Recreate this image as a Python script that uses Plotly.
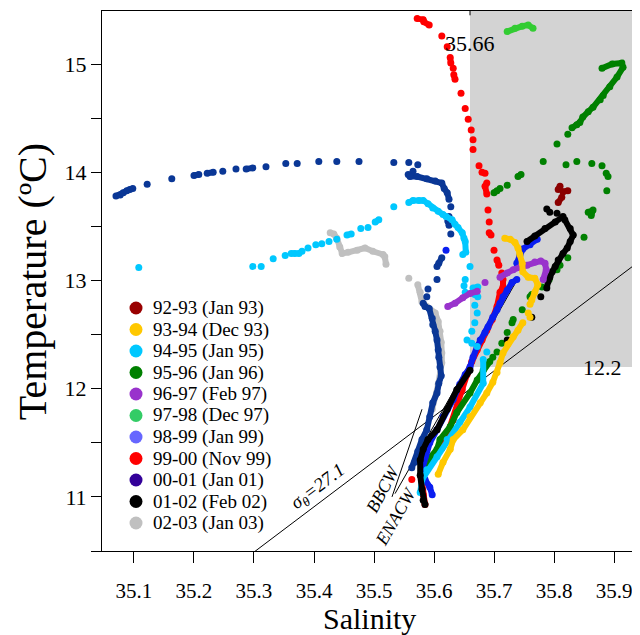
import plotly.graph_objects as go

N = None
# ---------------- data (salinity S, temperature T); None separates runs / isolated casts
s_9293 = [35.810, 35.807, N, 35.815, 35.823, N, 35.813, 35.807]
t_9293 = [13.87, 13.84, N, 13.82, 13.83, N, 13.77, 13.72]

s_9394 = [35.718, 35.727, 35.735, 35.740, 35.743, 35.747, 35.748, 35.757, 35.768, 35.773, 35.768, 35.763, 35.760, N,
          35.757, N, 35.760, N,
          35.748, 35.740, 35.732, 35.723, 35.715, 35.710, 35.705, 35.698, 35.688, 35.677, 35.660, 35.648, 35.632, 35.627, 35.615, 35.607]
t_9394 = [13.39, 13.38, 13.35, 13.30, 13.24, 13.16, 13.08, 13.03, 13.02, 12.96, 12.89, 12.82, 12.78, N,
          12.70, N, 12.66, N,
          12.61, 12.54, 12.48, 12.41, 12.33, 12.24, 12.15, 12.06, 11.96, 11.87, 11.74, 11.62, 11.53, 11.44, 11.32, 11.21]

s_9495 = [35.108, N, 35.298, N, 35.312, N, 35.332, N, 35.352, N, 35.362, 35.368, 35.375, N, 35.380, N, 35.390, N, 35.403, N,
          35.413, N, 35.425, N, 35.438, N, 35.455, 35.462, N, 35.478, N, 35.490, N, 35.502, 35.508, N, 35.533, N,
          35.558, 35.565, 35.575, 35.582, 35.590, 35.598, 35.607, 35.615, 35.620, 35.630, 35.635, 35.640, 35.647, 35.650, 35.652, 35.653, N,
          35.648, N, 35.660, N, 35.652, N, 35.650, N, 35.652, N, 35.665, 35.673, N, 35.668, 35.673, N, 35.668, N, 35.672, N,
          35.668, N, 35.663, N, 35.655, N, 35.663, N, 35.672, N, 35.688, N,
          35.682, 35.682, 35.660, 35.643, 35.622, 35.605, 35.588, 35.580, 35.577]
t_9495 = [13.12, N, 13.13, N, 13.13, N, 13.20, N, 13.23, N, 13.25, 13.25, 13.25, N, 13.27, N, 13.30, N, 13.33, N,
          13.34, N, 13.36, N, 13.38, N, 13.42, 13.43, N, 13.48, N, 13.49, N, 13.54, 13.56, N, 13.68, N,
          13.72, 13.74, 13.74, 13.74, 13.71, 13.67, 13.64, 13.61, 13.59, 13.56, 13.52, 13.49, 13.44, 13.39, 13.36, 13.26, N,
          13.24, N, 13.13, N, 13.01, N, 12.95, N, 12.89, N, 12.93, 12.94, N, 12.87, 12.85, N, 12.77, N, 12.70, N,
          12.61, N, 12.53, N, 12.45, N, 12.42, N, 12.39, N, 12.34, N,
          12.27, 12.05, 11.83, 11.69, 11.53, 11.37, 11.25, 11.16, 11.04]

s_9596 = [35.880, 35.897, 35.913, 35.915, 35.905, 35.893, 35.882, 35.877, 35.865, 35.857, 35.848, 35.843, 35.838, 35.830, N,
          35.823, N, 35.805, N, 35.782, N, 35.745, 35.740, N, 35.722, N, 35.710, N, 35.705, 35.700, N,
          35.820, N, 35.838, N, 35.863, N, 35.880, N, 35.887, N, 35.890, N, 35.888, N,
          35.857, 35.865, 35.862, N, 35.850, N, 35.823, N, 35.810, N, 35.805, N, 35.792, N, 35.780, N, 35.763, 35.760, N,
          35.747, N, 35.732, 35.730, N, 35.722, N, 35.713, N, 35.705, N, 35.698, N,
          35.693, 35.682, 35.672, 35.660, 35.638, 35.627, 35.610, 35.605, 35.590, 35.585]
t_9596 = [14.96, 15.00, 15.01, 14.97, 14.88, 14.79, 14.71, 14.67, 14.60, 14.56, 14.51, 14.46, 14.44, 14.41, N,
          14.35, N, 14.26, N, 14.10, N, 13.98, 13.96, N, 13.88, N, 13.85, N, 13.83, 13.81, N,
          14.07, N, 14.10, N, 14.08, N, 14.06, N, 13.99, N, 13.96, N, 13.83, N,
          13.63, 13.65, 13.60, N, 13.40, N, 13.21, N, 13.14, N, 13.10, N, 13.01, N, 12.94, N, 12.87, 12.85, N,
          12.73, N, 12.64, 12.61, N, 12.52, N, 12.42, N, 12.34, N, 12.29, N,
          12.25, 12.17, 12.08, 11.96, 11.78, 11.65, 11.53, 11.44, 11.34, 11.25]

s_9697 = [35.623, 35.635, 35.648, 35.660, 35.672, N, 35.685, N,
          35.710, 35.722, 35.732, 35.743, 35.755, 35.768, 35.778, 35.785, 35.787, 35.782]
t_9697 = [12.76, 12.79, 12.84, 12.88, 12.90, N, 12.98, N,
          13.03, 13.07, 13.10, 13.12, 13.14, 13.17, 13.18, 13.16, 13.10, 13.01]

s_9798 = [35.722, 35.735, 35.747, 35.757, 35.765]
t_9798 = [15.30, 15.33, 15.35, 15.36, 15.33]

s_9899 = [35.772, 35.760, 35.748, 35.743, 35.738, N, 35.620, N,
          35.738, 35.730, 35.722, 35.715, 35.710, 35.705, 35.698, 35.690, 35.685, 35.677, 35.672, 35.665, 35.660,
          35.652, 35.643, 35.632, 35.615, 35.605, 35.593, 35.585, 35.580, 35.585, 35.593, 35.597]
t_9899 = [13.38, 13.33, 13.29, 13.23, 13.16, N, 13.28, N,
          13.01, 12.98, 12.91, 12.85, 12.79, 12.73, 12.66, 12.57, 12.52, 12.45, 12.39, 12.29, 12.20,
          12.13, 12.04, 11.90, 11.74, 11.62, 11.50, 11.37, 11.25, 11.16, 11.09, 11.02]

s_9900 = [35.572, 35.582, 35.583, 35.592, N, 35.613, N, 35.622, N, 35.627, 35.628, N, 35.632, N, 35.633, 35.635, N,
          35.645, N, 35.652, N, 35.657, N, 35.662, N, 35.665, N, 35.665, N, 35.675, N, 35.680, 35.685, N, 35.688, 35.685, 35.688, N,
          35.690, N, 35.692, N, 35.692, 35.695, N, 35.700, N, 35.705, 35.708, N, 35.713, N,
          35.715, 35.715, 35.710, 35.705, 35.697, 35.688, 35.680, 35.672, 35.663, 35.655, 35.647, 35.640, 35.632,
          35.622, 35.613, 35.602, 35.590, 35.583, 35.580, 35.582, 35.585, N, 35.563]
t_9900 = [15.42, 15.41, 15.39, 15.36, N, 15.26, N, 15.16, N, 15.06, 15.01, N, 14.96, N, 14.90, 14.86, N,
          14.73, N, 14.59, N, 14.49, N, 14.39, N, 14.30, N, 14.21, N, 14.06, N, 14.00, 13.99, N, 13.90, 13.87, 13.80, N,
          13.65, N, 13.54, N, 13.44, 13.42, N, 13.28, N, 13.19, 13.14, N, 13.07, N,
          13.01, 12.94, 12.89, 12.76, 12.64, 12.54, 12.45, 12.36, 12.25, 12.13, 11.99, 11.85, 11.71,
          11.57, 11.45, 11.36, 11.30, 11.23, 11.14, 11.02, 10.93, N, 11.16]

s_0001 = [35.070, 35.077, 35.082, 35.088, 35.093, 35.098, N, 35.122, N, 35.163, N, 35.200, 35.208, N, 35.222, 35.232, N,
          35.248, N, 35.270, N, 35.287, 35.298, N, 35.320, N, 35.353, N, 35.372, N, 35.408, N, 35.438, N, 35.475, N,
          35.533, N, 35.558, N, 35.573, N, 35.565, N,
          35.557, 35.560, 35.572, 35.588, 35.602, 35.613, 35.617, 35.622, 35.625, N,
          35.628, N, 35.625, N, 35.623, 35.625, N, 35.628, N,
          35.613, 35.608, 35.605, N, 35.605, N, 35.590, N, 35.588, N,
          35.582, 35.585, 35.592, 35.597, 35.598, 35.602, 35.605, 35.607, 35.608, 35.610, 35.612, 35.608, 35.605,
          35.598, 35.593, 35.588, 35.580, 35.573, 35.568, 35.563]
t_0001 = [13.78, 13.79, 13.81, 13.83, 13.84, 13.85, N, 13.89, N, 13.94, N, 13.97, 13.98, N, 13.99, 14.00, N,
          14.01, N, 14.03, N, 14.03, 14.04, N, 14.05, N, 14.08, N, 14.08, N, 14.10, N, 14.10, N, 14.10, N,
          14.09, N, 14.09, N, 14.07, N, 14.01, N,
          13.98, 13.96, 13.96, 13.94, 13.92, 13.90, 13.85, 13.81, 13.75, N,
          13.68, N, 13.59, N, 13.55, 13.51, N, 13.43, N,
          13.21, 13.16, 13.13, N, 13.01, N, 12.92, N, 12.85, N,
          12.79, 12.76, 12.74, 12.65, 12.59, 12.53, 12.45, 12.36, 12.29, 12.20, 12.12, 12.05, 11.96,
          11.87, 11.74, 11.62, 11.53, 11.42, 11.32, 11.27]

s_0102 = [35.788, N, 35.793, N, 35.805, N,
          35.815, 35.802, 35.785, 35.768, 35.755, N,
          35.818, 35.827, 35.832, 35.827, 35.822, 35.815, 35.807, 35.802, 35.797, 35.793, 35.790, 35.788, N,
          35.778, N, 35.763, N, 35.722, N,
          35.660, 35.638, 35.622, 35.605, 35.590, 35.582, 35.577, 35.577, 35.580, 35.582, 35.585]
t_0102 = [13.66, N, 13.63, N, 13.62, N,
          13.59, 13.54, 13.48, 13.41, 13.36, N,
          13.56, 13.48, 13.42, 13.36, 13.30, 13.25, 13.19, 13.13, 13.08, 13.03, 12.99, 12.93, N,
          12.85, N, 12.66, N, 12.45, N,
          12.17, 11.99, 11.81, 11.62, 11.53, 11.44, 11.34, 11.20, 11.07, 10.97, 10.93]

s_0203 = [35.427, 35.433, 35.438, 35.443, 35.447, 35.457, 35.472, 35.485, 35.498, 35.515, 35.518, 35.520, N,
          35.558, N, 35.573, 35.577, 35.580, 35.588, 35.602, 35.607, 35.610, 35.612, 35.613, 35.613, 35.607, 35.597]
t_0203 = [13.44, 13.43, 13.39, 13.31, 13.25, 13.26, 13.28, 13.30, 13.27, 13.24, 13.22, 13.15, N,
          13.02, N, 12.96, 12.89, 12.80, 12.76, 12.70, 12.62, 12.53, 12.43, 12.33, 12.24, 12.04, 11.81]

# reference lines
iso_S = [35.30, 35.95]
iso_T = [10.49, 13.21]
bbcw_S = [35.580, 35.530]
bbcw_T = [11.81, 11.00]
enacw_S = [35.738, 35.535]
enacw_T = [13.00, 11.03]

legend_labels = ["92-93 (Jan 93)", "93-94 (Dec 93)", "94-95 (Jan 95)", "95-96 (Jan 96)", "96-97 (Feb 97)",
                 "97-98 (Dec 97)", "98-99 (Jan 99)", "99-00 (Nov 99)", "00-01 (Jan 01)", "01-02 (Feb 02)",
                 "02-03 (Jan 03)"]
legend_colors = ["#990000", "#FFC800", "#00C8FF", "#008000", "#9933CC", "#33CC66", "#6666FF",
                 "#FF0000", "#330099", "#000000", "#C0C0C0"]

x_ticks = [35.1, 35.2, 35.3, 35.4, 35.5, 35.6, 35.7, 35.8, 35.9]
y_ticks = [11, 12, 13, 14, 15]
box_S = 35.66
box_T = 12.2

FONT = "Liberation Serif, Times New Roman, serif"

# draw order (bottom -> top)
series = [
    ("02-03 (Jan 03)", s_0203, t_0203, "#C0C0C0"),
    ("00-01 (Jan 01)", s_0001, t_0001, "#0A3796"),
    ("99-00 (Nov 99)", s_9900, t_9900, "#FF0000"),
    ("95-96 (Jan 96)", s_9596, t_9596, "#008000"),
    ("98-99 (Jan 99)", s_9899, t_9899, "#0A1EF0"),
    ("94-95 (Jan 95)", s_9495, t_9495, "#00C8FF"),
    ("01-02 (Feb 02)", s_0102, t_0102, "#000000"),
    ("96-97 (Feb 97)", s_9697, t_9697, "#9933CC"),
    ("93-94 (Dec 93)", s_9394, t_9394, "#FFC800"),
    ("92-93 (Jan 93)", s_9293, t_9293, "#8B0000"),
    ("97-98 (Dec 97)", s_9798, t_9798, "#33CC33"),
]

fig = go.Figure()

for S, T in [(iso_S, iso_T), (bbcw_S, bbcw_T), (enacw_S, enacw_T)]:
    fig.add_trace(go.Scatter(x=S, y=T, mode="lines", line=dict(color="black", width=1),
                             showlegend=False, hoverinfo="skip"))

for name, S, T, c in series:
    fig.add_trace(go.Scatter(x=S, y=T, mode="lines+markers", name=name, connectgaps=False,
                             line=dict(color=c, width=6), marker=dict(color=c, size=7, line=dict(width=0)),
                             showlegend=False, hoverinfo="skip"))

shapes = [
    dict(type="rect", xref="x", yref="y", x0=box_S, x1=36.2, y0=box_T, y1=16.0,
         fillcolor="#D3D3D3", line=dict(width=0), layer="below"),
    dict(type="line", xref="x", yref="paper", x0=box_S, x1=box_S, y0=1.0, y1=0.992,
         line=dict(color="black", width=1)),
    dict(type="line", xref="paper", yref="y", x0=0.991, x1=1.0, y0=box_T, y1=box_T,
         line=dict(color="black", width=1)),
]

annotations = [
    dict(text="35.66", x=box_S, y=15.19, xref="x", yref="y", showarrow=False,
         font=dict(family=FONT, size=22, color="black")),
    dict(text="12.2", x=35.88, y=box_T, xref="x", yref="y", showarrow=False,
         font=dict(family=FONT, size=22, color="black")),
    dict(text="<i>σ<sub>θ</sub>=27.1</i>", x=35.407, y=11.094, xref="x", yref="y", showarrow=False,
         textangle=-37, font=dict(family=FONT, size=19, color="black")),
    dict(text="<i>BBCW</i>", x=35.515, y=11.07, xref="x", yref="y", showarrow=False,
         textangle=-62, font=dict(family=FONT, size=18, color="black")),
    dict(text="<i>ENACW</i>", x=35.537, y=10.82, xref="x", yref="y", showarrow=False,
         textangle=-60, font=dict(family=FONT, size=18, color="black")),
    dict(text="Salinity", x=0.498, y=-0.1255, xref="paper", yref="paper", showarrow=False,
         xanchor="center", yanchor="middle",
         font=dict(family=FONT, size=30, color="black")),
    dict(text="Temperature (ºC)", x=-0.130, y=0.498, xref="paper", yref="paper", showarrow=False,
         xanchor="center", yanchor="middle",
         textangle=-90, font=dict(family=FONT, size=40, color="black")),
]

# manual legend (positions relative to the plotting area)
PW, PH = 538.0, 540.0
for i, (lab, col) in enumerate(zip(legend_labels, legend_colors)):
    py = 308 + i * 21.5
    yc = (551 - py) / PH
    xc = (136 - 102) / PW
    r = 6.5
    shapes.append(dict(type="circle", xref="paper", yref="paper",
                       x0=xc - r / PW, x1=xc + r / PW, y0=yc - r / PH, y1=yc + r / PH,
                       fillcolor=col, line=dict(width=0)))
    annotations.append(dict(text=lab, x=(151 - 102) / PW, y=yc, xref="paper", yref="paper",
                            xanchor="left", yanchor="middle", showarrow=False,
                            font=dict(family=FONT, size=19, color="black")))

# the page body has an 8px margin, so the plotting area is offset to compensate
fig.update_layout(
    width=640, height=635,
    margin=dict(l=94, r=8, t=3, b=92),
    paper_bgcolor="white", plot_bgcolor="white",
    showlegend=False, hovermode=False,
    shapes=shapes, annotations=annotations,
    font=dict(family=FONT, color="black"),
)
fig.update_xaxes(range=[35.0467, 35.9433], tickmode="array", tickvals=x_ticks,
                 ticktext=[f"{v:.1f}" for v in x_ticks],
                 ticks="outside", ticklen=11, tickcolor="black", showgrid=False, zeroline=False,
                 showline=True, linecolor="black", linewidth=1, mirror=True,
                 tickfont=dict(family=FONT, size=21, color="black"), ticklabelstandoff=10)
fig.update_yaxes(range=[10.50, 15.49], tickmode="array", tickvals=y_ticks,
                 ticktext=[str(v) for v in y_ticks],
                 ticks="outside", ticklen=10, tickcolor="black", showgrid=False, zeroline=False,
                 showline=True, linecolor="black", linewidth=1,
                 minor=dict(dtick=0.5, tick0=0, ticks="outside", ticklen=10, tickcolor="black", showgrid=False),
                 tickfont=dict(family=FONT, size=22, color="black"))

fig.write_html("out.html")
